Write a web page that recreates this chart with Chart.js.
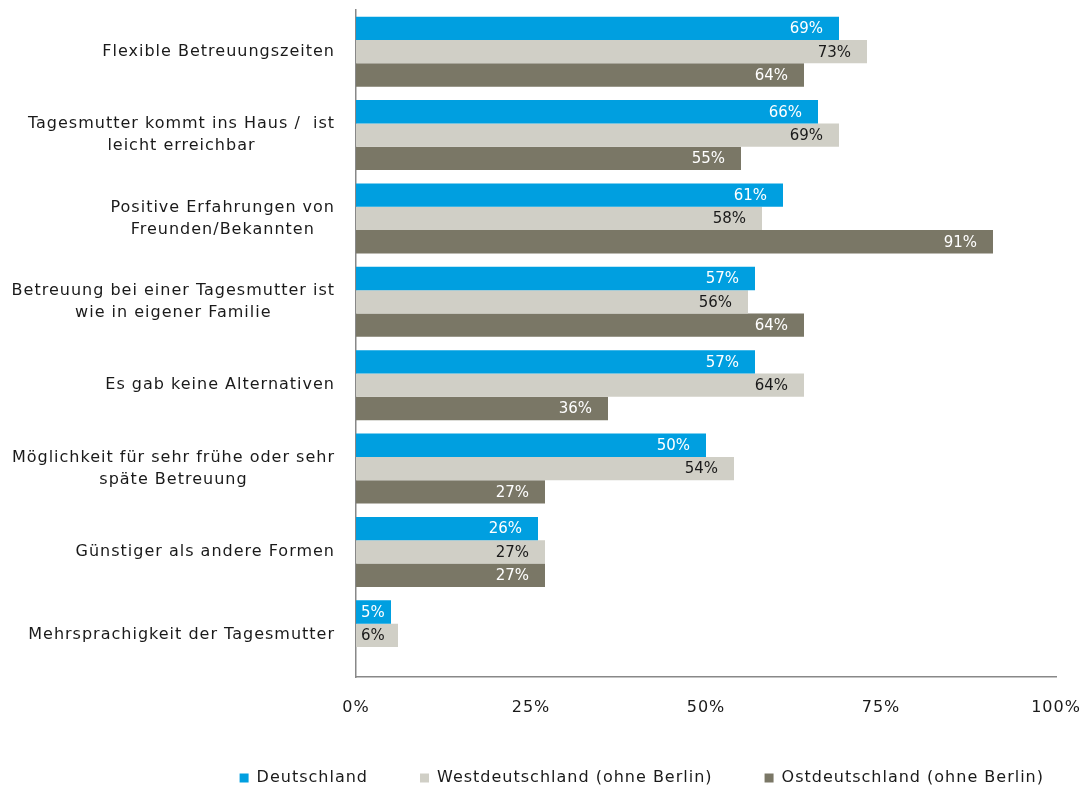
<!DOCTYPE html>
<html lang="de">
<head>
<meta charset="utf-8">
<title>Gründe für die Tagesmutter</title>
<script src="https://cdn.jsdelivr.net/npm/chart.js@4/dist/chart.umd.min.js"></script>
<style>
  html, body { margin: 0; padding: 0; background: #fff; }
  #wrap { width: 1090px; height: 790px; }
</style>
</head>
<body>
<div id="wrap"><canvas id="reasonsChart" width="1090" height="790"></canvas></div>
<script>
const categories = [
  ['Flexible Betreuungszeiten'],
  ['Tagesmutter kommt ins Haus /  ist', 'leicht erreichbar'],
  ['Positive Erfahrungen von', 'Freunden/Bekannten'],
  ['Betreuung bei einer Tagesmutter ist', 'wie in eigener Familie'],
  ['Es gab keine Alternativen'],
  ['Möglichkeit für sehr frühe oder sehr', 'späte Betreuung'],
  ['Günstiger als andere Formen'],
  ['Mehrsprachigkeit der Tagesmutter']
];

const deutschland = [69, 66, 61, 57, 57, 50, 26, 5];
const westdeutschland = [73, 69, 58, 56, 64, 54, 27, 6];
const ostdeutschland = [64, 55, 91, 64, 36, 27, 27, null];

const xTicks = [0, 25, 50, 75, 100];

const FONT = 'DejaVu Sans, Verdana, sans-serif';
const TEXT = '#1a1a1a';
const AXIS = '#888888';

// small tracking like the original office font
const spacing = {
  id: 'spacing',
  beforeLayout(chart) { chart.ctx.letterSpacing = '1px'; },
  beforeDraw(chart) { chart.ctx.letterSpacing = '1px'; }
};

// category labels: each block centred on itself, block right-aligned to the axis
const categoryLabels = {
  id: 'categoryLabels',
  afterDraw(chart) {
    const { ctx } = chart;
    const y = chart.scales.y;
    ctx.save();
    ctx.letterSpacing = '1px';
    ctx.font = '16px ' + FONT;
    ctx.fillStyle = TEXT;
    ctx.textAlign = 'center';
    ctx.textBaseline = 'middle';
    const right = chart.chartArea.left - 21;
    const lh = 22;
    categories.forEach((lines, i) => {
      const cy = y.getPixelForValue(i);
      const w = Math.max(...lines.map(l => ctx.measureText(l).width));
      const cx = right - w / 2;
      lines.forEach((l, k) => {
        ctx.fillText(l, cx, cy + (k - (lines.length - 1) / 2) * lh);
      });
    });
    ctx.restore();
  }
};

// percentage labels at the inner end of each bar
const valueLabels = {
  id: 'valueLabels',
  afterDatasetsDraw(chart) {
    const { ctx } = chart;
    ctx.save();
    ctx.letterSpacing = '0px';
    ctx.font = '15px ' + FONT;
    ctx.textAlign = 'right';
    ctx.textBaseline = 'middle';
    chart.data.datasets.forEach((ds, di) => {
      const meta = chart.getDatasetMeta(di);
      meta.data.forEach((bar, i) => {
        const v = ds.data[i];
        if (v === null || v === undefined) return;
        const txt = v + '%';
        const w = ctx.measureText(txt).width;
        let x = bar.x - 16;
        if (x - w < bar.base + 5) x = bar.base + 5 + w;
        ctx.fillStyle = ds.labelColor;
        ctx.fillText(txt, x, bar.y + 1);
      });
    });
    ctx.restore();
  }
};

const ctx = document.getElementById('reasonsChart').getContext('2d');

new Chart(ctx, {
  type: 'bar',
  data: {
    labels: categories,
    datasets: [
      {
        label: 'Deutschland',
        data: deutschland,
        backgroundColor: '#009fe0',
        labelColor: '#ffffff'
      },
      {
        label: 'Westdeutschland (ohne Berlin)',
        data: westdeutschland,
        backgroundColor: '#d0cfc6',
        labelColor: TEXT
      },
      {
        label: 'Ostdeutschland (ohne Berlin)',
        data: ostdeutschland,
        backgroundColor: '#7a7766',
        labelColor: '#ffffff'
      }
    ]
  },
  options: {
    indexAxis: 'y',
    responsive: false,
    animation: false,
    events: [],
    categoryPercentage: 0.84,
    barPercentage: 1.0,
    layout: { padding: { top: 10, left: 0, right: -6, bottom: -6 } },
    plugins: {
      legend: {
        display: true,
        position: 'bottom',
        align: 'end',
        labels: {
          boxWidth: 9,
          boxHeight: 9,
          padding: 52,
          color: TEXT,
          font: { family: FONT, size: 16 }
        }
      },
      tooltip: { enabled: false }
    },
    scales: {
      x: {
        min: 0,
        max: 100,
        afterBuildTicks: s => { s.ticks = xTicks.map(v => ({ value: v })); },
        afterFit: s => { s.height = 41; s.paddingRight = 34; },
        grid: { display: false, drawTicks: false },
        border: { display: true, color: AXIS, width: 1.5 },
        ticks: {
          padding: 21,
          color: TEXT,
          font: { family: FONT, size: 16 },
          maxRotation: 0,
          callback: v => v + '%'
        }
      },
      y: {
        afterFit: s => { s.width = 356; },
        grid: { display: false, drawTicks: false },
        border: { display: true, color: AXIS, width: 1.5 },
        ticks: { display: false }
      }
    }
  },
  plugins: [spacing, categoryLabels, valueLabels]
});
</script>
</body>
</html>
